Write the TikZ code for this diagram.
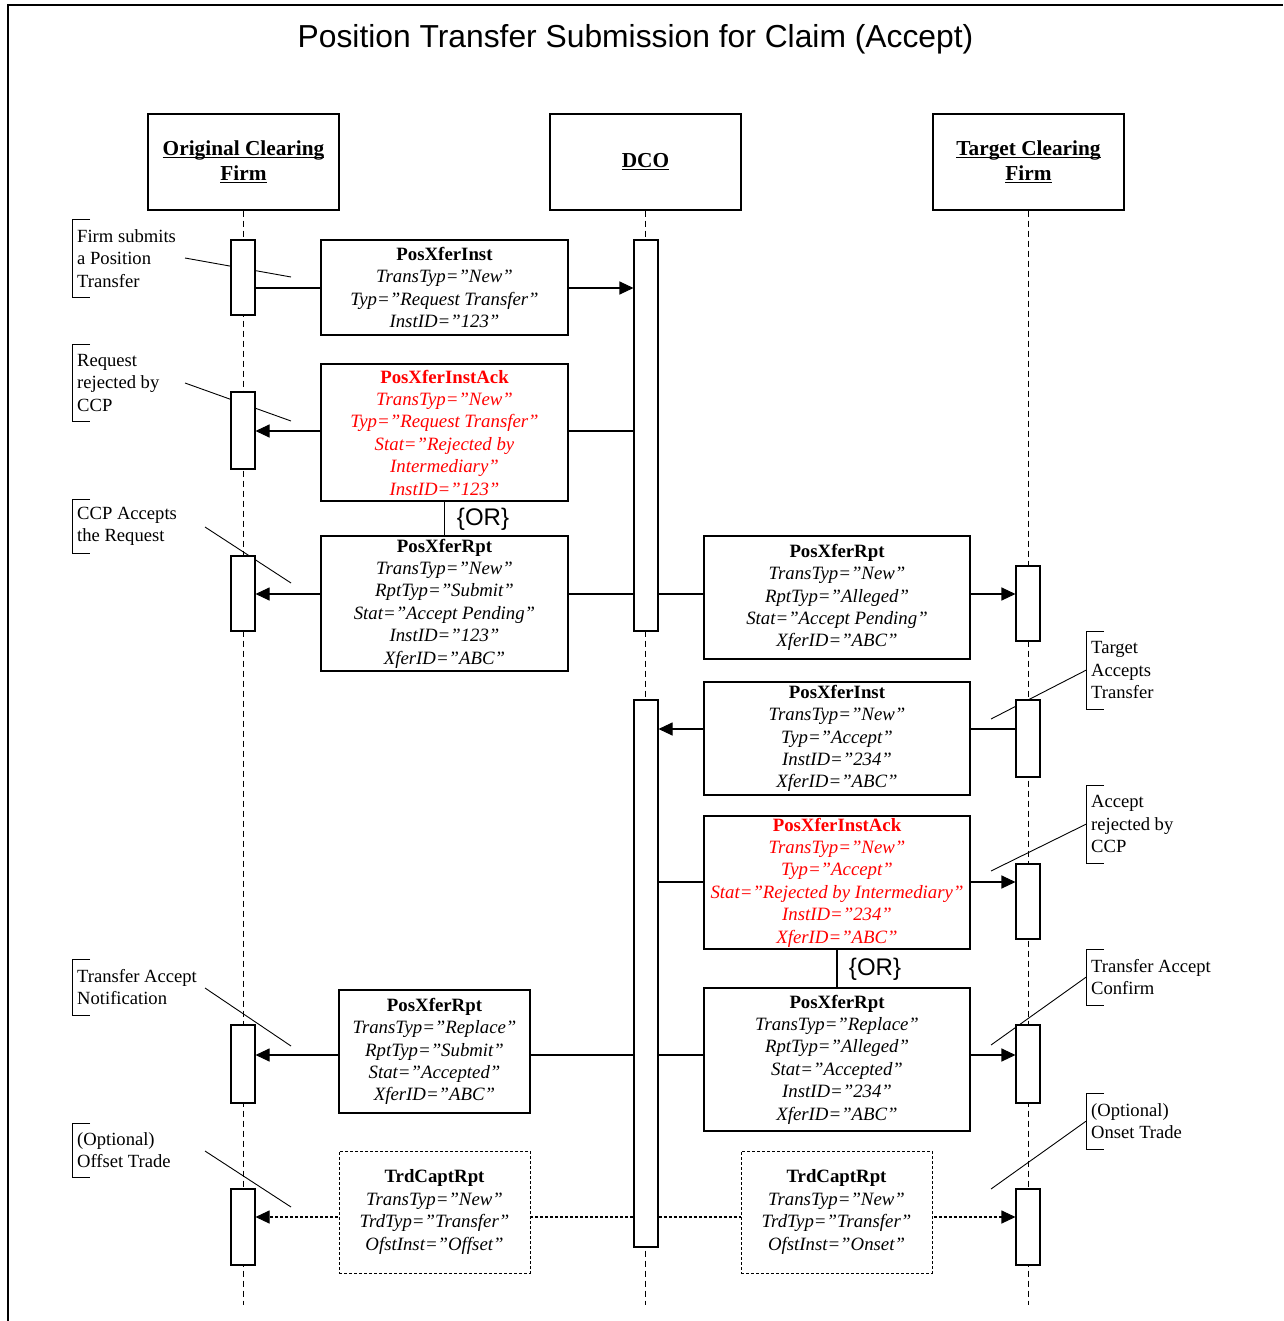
\documentclass[tikz,border=0pt]{standalone}
\usepackage{fontspec}
\setmainfont{Liberation Serif}
\newfontfamily\arialf{Liberation Sans}
\usetikzlibrary{arrows.meta}
\definecolor{msgred}{RGB}{255,0,0}
\newcommand\hdul[1]{\setbox0\hbox{#1}\rlap{\rule[-2.6pt]{\wd0}{1.2pt}}\box0}
\begin{document}
\begin{tikzpicture}[x=1pt,y=-1pt,
  head/.style={draw, line width=1.2pt, fill=white, inner sep=0pt, align=center,
    minimum width=191pt, minimum height=96pt, font=\bfseries\fontsize{21.3}{25}\selectfont},
  life/.style={line width=0.8pt, dash pattern=on 6pt off 4pt},
  barbox/.style={draw, line width=1.05pt, fill=white, inner sep=0pt, minimum width=24pt},
  msgbox/.style={draw, line width=1.05pt, fill=white, inner sep=0pt, align=center,
    font=\itshape\fontsize{18.8}{22.4}\selectfont},
  redtext/.style={text=msgred},
  dashbox/.style={line width=0.9pt, dash pattern=on 3pt off 2pt},
  msg/.style={line width=1.05pt, -{Triangle[length=14pt,width=13pt]}},
  dsh/.style={dash pattern=on 3pt off 2pt},
  plain/.style={line width=1.05pt},
  note/.style={inner xsep=5pt, inner ysep=0pt, align=left, anchor=north west,
    font=\fontsize{18.6}{22.5}\selectfont},
  brk/.style={line width=0.9pt},
  ptr/.style={line width=0.9pt},
  orlbl/.style={font=\arialf\fontsize{24}{28}\selectfont, inner sep=0pt}
]
\useasboundingbox (0,0) rectangle (1283,1321);
% frame
\draw[line width=2.5pt] (8,1321) -- (8,5) -- (1283,5);
\node[font=\arialf\fontsize{31.8}{36}\selectfont] (title) at (635.5,39) {Position Transfer Submission for Claim (Accept)};

% headers
\node[head] (ocf) at (243.5,162) {\hdul{Original Clearing}\\\hdul{Firm}};
\node[head] (dco) at (645.5,162) {\hdul{DCO}};
\node[head] (tcf) at (1028.5,162) {\hdul{Target Clearing}\\\hdul{Firm}};

% lifelines
\coordinate (lifeend) at (0,1305);
\draw[life] (ocf.south) -- (ocf.south |- lifeend);
\draw[life] (dco.south) -- (dco.south |- lifeend);
\draw[life] (tcf.south) -- (tcf.south |- lifeend);

% notes (left)
\node[note, minimum height=78pt] (n1) at (72,219) {Firm submits\\a Position\\Transfer};
\node[note, minimum height=77pt] (n2) at (72,344) {Request\\rejected by\\CCP};
\node[note, minimum height=54pt] (n3) at (72,499) {CCP Accepts\\the Request};
\node[note, minimum height=56pt] (n4) at (72,959) {Transfer Accept\\Notification};
\node[note, minimum height=54pt] (n5) at (72,1123) {(Optional)\\Offset Trade};
% notes (right)
\node[note, minimum height=78pt] (r1) at (1086,631) {Target\\Accepts\\Transfer};
\node[note, minimum height=78pt] (r2) at (1086,785) {Accept\\rejected by\\CCP};
\node[note, minimum height=56pt] (r3) at (1086,949) {Transfer Accept\\Confirm};
\node[note, minimum height=56pt] (r4) at (1086,1093) {(Optional)\\Onset Trade};
\foreach \n in {n1,n2,n3,n4,n5,r1,r2,r3,r4}{
  \draw[brk] ([xshift=18pt]\n.north west) -- (\n.north west) -- (\n.south west) -- ([xshift=18pt]\n.south west);
}
% pointer lines
\coordinate (p1a) at (185,258);  \coordinate (p1b) at (291,277);
\coordinate (p2a) at (185,383);  \coordinate (p2b) at (291,421);
\coordinate (p3a) at (205,527);  \coordinate (p3b) at (291,583);
\coordinate (p4a) at (205,988);  \coordinate (p4b) at (291,1046);
\coordinate (p5a) at (205,1151); \coordinate (p5b) at (291,1207);
\coordinate (q1b) at (991,719);
\coordinate (q2b) at (991,871);
\coordinate (q3b) at (991,1045);
\coordinate (q4b) at (991,1189);
\draw[ptr] (p1a) -- (p1b);
\draw[ptr] (p2a) -- (p2b);
\draw[ptr] (p3a) -- (p3b);
\draw[ptr] (p4a) -- (p4b);
\draw[ptr] (p5a) -- (p5b);
\draw[ptr] (r1.west) -- (q1b);
\draw[ptr] (r2.west) -- (q2b);
\draw[ptr] (r3.west) -- (q3b);
\draw[ptr] (r4.west) -- (q4b);

% activation bars
\node[barbox, minimum height=75pt] (o1) at (243,277.5) {};
\node[barbox, minimum height=77pt] (o2) at (243,430.5) {};
\node[barbox, minimum height=75pt] (o3) at (243,593.5) {};
\node[barbox, minimum height=78pt] (o4) at (243,1064) {};
\node[barbox, minimum height=76pt] (o5) at (243,1227) {};
\node[barbox, minimum height=391pt] (dA) at (646,435.5) {};
\node[barbox, minimum height=547pt] (dB) at (646,973.5) {};
\node[barbox, minimum height=75pt] (t1) at (1028,603.5) {};
\node[barbox, minimum height=77pt] (t2) at (1028,738.5) {};
\node[barbox, minimum height=75pt] (t3) at (1028,901.5) {};
\node[barbox, minimum height=78pt] (t4) at (1028,1064) {};
\node[barbox, minimum height=76pt] (t5) at (1028,1227) {};

% message levels
\coordinate (a1) at (0,288);
\coordinate (a2) at (0,431);
\coordinate (a3) at (0,594);
\coordinate (a6) at (0,729);
\coordinate (a7) at (0,882);
\coordinate (a9) at (0,1055);
\coordinate (a11) at (0,1217);
\draw[msg] (o1.east |- a1) -- (dA.west |- a1);
\draw[msg] (dA.west |- a2) -- (o2.east |- a2);
\draw[msg] (dA.west |- a3) -- (o3.east |- a3);
\draw[msg] (dA.east |- a3) -- (t1.west |- a3);
\draw[msg] (t2.west |- a6) -- (dB.east |- a6);
\draw[msg] (dB.east |- a7) -- (t3.west |- a7);
\draw[msg] (dB.east |- a9) -- (t4.west |- a9);
\draw[msg] (dB.west |- a9) -- (o4.east |- a9);
\draw[msg,dsh] (dB.west |- a11) -- (o5.east |- a11);
\draw[msg,dsh] (dB.east |- a11) -- (t5.west |- a11);

% message boxes
\node[msgbox, minimum width=247pt, minimum height=95pt] (m1) at (444.5,287.5)
  {\textbf{\upshape PosXferInst}\\TransTyp=”New”\\Typ=”Request Transfer”\\InstID=”123"};
\node[msgbox, redtext, minimum width=247pt, minimum height=137pt] (m2) at (444.5,432.5)
  {\textbf{\upshape PosXferInstAck}\\TransTyp=”New”\\Typ=”Request Transfer”\\Stat=”Rejected by\\Intermediary”\\InstID=”123"};
\node[msgbox, minimum width=247pt, minimum height=135pt] (m4) at (444.5,603.5)
  {\textbf{\upshape PosXferRpt}\\TransTyp=”New”\\RptTyp=”Submit”\\Stat=”Accept Pending”\\InstID=”123"\\XferID=”ABC”};
\node[msgbox, minimum width=266pt, minimum height=123pt] (m5) at (837,597.5)
  {\textbf{\upshape PosXferRpt}\\TransTyp=”New”\\RptTyp=”Alleged”\\Stat=”Accept Pending"\\XferID=”ABC”};
\node[msgbox, minimum width=266pt, minimum height=113pt] (m6) at (837,738.5)
  {\textbf{\upshape PosXferInst}\\TransTyp=”New”\\Typ=”Accept”\\InstID=”234"\\XferID=”ABC”};
\node[msgbox, redtext, minimum width=266pt, minimum height=133pt] (m7) at (837,882.5)
  {\textbf{\upshape PosXferInstAck}\\TransTyp=”New”\\Typ=”Accept”\\Stat=”Rejected by Intermediary”\\InstID=”234"\\XferID=”ABC”};
\node[msgbox, minimum width=266pt, minimum height=143pt] (m9) at (837,1059.5)
  {\textbf{\upshape PosXferRpt}\\TransTyp=”Replace”\\RptTyp=”Alleged”\\Stat=”Accepted”\\InstID=”234"\\XferID=”ABC”};
\node[msgbox, minimum width=191pt, minimum height=123pt] (m10) at (434.5,1051.5)
  {\textbf{\upshape PosXferRpt}\\TransTyp=”Replace”\\RptTyp=”Submit”\\Stat=”Accepted”\\XferID=”ABC”};
\node[msgbox, dashbox, minimum width=191pt, minimum height=122pt] (m11) at (434.5,1212)
  {\textbf{\upshape TrdCaptRpt}\\TransTyp=”New”\\TrdTyp=”Transfer”\\OfstInst=”Offset”};
\node[msgbox, dashbox, minimum width=191pt, minimum height=122pt] (m12) at (836.5,1212)
  {\textbf{\upshape TrdCaptRpt}\\TransTyp=”New”\\TrdTyp=”Transfer”\\OfstInst=”Onset”};

% OR connectors
\draw[plain] (m2.south) -- (m4.north);
\node[orlbl] (or1) at (483,519) {\{OR\}};
\draw[plain] (m7.south) -- (m9.north);
\node[orlbl] (or2) at (875,969) {\{OR\}};
\end{tikzpicture}
\end{document}
